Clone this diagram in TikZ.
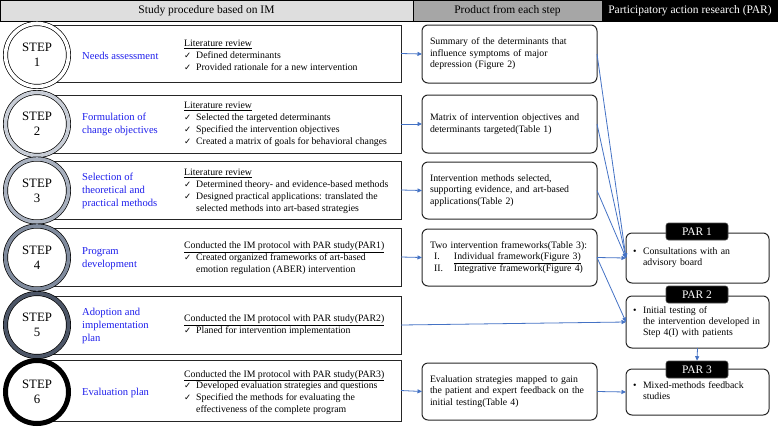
\documentclass[tikz,border=0pt]{standalone}
\usepackage{fontspec}
\setmainfont{Liberation Serif}
\newfontfamily\dejavu{DejaVu Sans}
\usetikzlibrary{arrows.meta}
\definecolor{titleblue}{RGB}{30,30,235}
\definecolor{arrowblue}{RGB}{68,114,196}
\definecolor{hdrA}{RGB}{222,222,222}
\definecolor{hdrB}{RGB}{166,166,166}
\definecolor{ringB}{RGB}{200,205,214}
\definecolor{ringC}{RGB}{168,176,190}
\definecolor{ringD}{RGB}{128,139,157}
\definecolor{ringE}{RGB}{76,85,102}
\newcommand{\chk}{\makebox[12pt][l]{\dejavu\fontsize{8.5}{10}\selectfont ✓}}
\newcommand{\hang}{\hspace*{12pt}}
\newcommand{\bulitem}[1]{\hspace*{3pt}\makebox[10pt][l]{•}\begin{tabular}[t]{@{}l@{}}#1\end{tabular}}
\begin{document}
\begin{tikzpicture}[x=1pt,y=-1pt,
  hdr/.style={draw=black, line width=0.8pt, inner sep=0pt, outer sep=0pt, anchor=north west, font=\fontsize{11.5}{13}\selectfont},
  rowbox/.style={draw=black!85, line width=0.7pt, inner sep=0pt, outer sep=0pt, anchor=north west, minimum width=365pt},
  stepcirc/.style={circle, draw=black, line width=0.7pt, double distance=3.6pt, fill=white, minimum size=63pt, inner sep=0pt, align=center, font=\fontsize{12.8}{15}\selectfont},
  title/.style={anchor=west, align=left, text=titleblue, inner sep=0pt, font=\fontsize{10.6}{13}\selectfont},
  desc/.style={anchor=west, align=left, inner sep=0pt, font=\fontsize{9.8}{11.9}\selectfont},
  prod/.style={draw=black!85, line width=1pt, rounded corners=6pt, anchor=north west, minimum width=175pt, text width=165pt, inner xsep=5pt, inner ysep=0pt, outer sep=0pt, align=left, font=\fontsize{9.8}{11.6}\selectfont},
  parbox/.style={draw=black!85, line width=1pt, rounded corners=6pt, anchor=north west, minimum width=143pt, text width=135pt, inner xsep=4pt, inner ysep=0pt, outer sep=0pt, align=left, font=\fontsize{9.8}{11.2}\selectfont},
  parlab/.style={fill=black, draw=black!70, line width=0.6pt, rounded corners=2.5pt, minimum width=62pt, minimum height=17pt, inner sep=0pt, text=white, font=\fontsize{11.5}{13}\selectfont},
  conn/.style={draw=arrowblue, line width=0.8pt, -{Triangle[length=4.5pt,width=4pt]}},
]
\useasboundingbox (0,0) rectangle (778,426);

% header
\node[hdr, fill=hdrA, minimum width=413pt, minimum height=21pt] (h1) at (0,0) {Study procedure based on IM};
\node[hdr, fill=hdrB, minimum width=189pt, minimum height=21pt] (h2) at (413,0) {Product from each step};
\node[hdr, fill=black, text=white, minimum width=176pt, minimum height=21pt] (h3) at (602,0) {Participatory action research (PAR)};

% row boxes
\node[rowbox, minimum height=57pt] (r1) at (36,25) {};
\node[rowbox, minimum height=58pt] (r2) at (36,95) {};
\node[rowbox, minimum height=58pt] (r3) at (36,161) {};
\node[rowbox, minimum height=58pt] (r4) at (36,228) {};
\node[rowbox, minimum height=58pt] (r5) at (36,296) {};
\node[rowbox, minimum height=61pt] (r6) at (36,360) {};

% step circles
\node[stepcirc, double=white] (c1) at (37,55) {STEP\\1};
\node[stepcirc, double=ringB] (c2) at (37,124) {STEP\\2};
\node[stepcirc, double=ringC] (c3) at (37,190.5) {STEP\\3};
\node[stepcirc, double=ringD] (c4) at (37,257.5) {STEP\\4};
\node[stepcirc, double=ringE] (c5) at (37,325) {STEP\\5};
\node[stepcirc, double=black] (c6) at (37,392) {STEP\\6};

% titles
\node[title] (t1) at (82,55.5) {Needs assessment};
\node[title] (t2) at (82,124) {Formulation of\\change objectives};
\node[title] (t3) at (82,191) {Selection of\\theoretical and\\practical methods};
\node[title] (t4) at (82,259) {Program\\development};
\node[title] (t5) at (82,326) {Adoption and\\implementation\\plan};
\node[title] (t6) at (82,393) {Evaluation plan};

% descriptions
\node[desc] (d1) at (184,55.5) {\underline{Literature review}\\\chk Defined determinants\\\chk Provided rationale for a new intervention};
\node[desc] (d2) at (184,124.5) {\underline{Literature review}\\\chk Selected the targeted determinants\\\chk Specified the intervention objectives\\\chk Created a matrix of goals for behavioral changes};
\node[desc] (d3) at (184,191) {\underline{Literature review}\\\chk Determined theory- and evidence-based methods\\\chk Designed practical applications: translated the\\\hang selected methods into art-based strategies};
\node[desc] (d4) at (184,258) {\underline{Conducted the IM protocol with PAR study(PAR1)}\\\chk Created organized frameworks of art-based\\\hang emotion regulation (ABER) intervention};
\node[desc] (d5) at (184,325.5) {\underline{Conducted the IM protocol with PAR study(PAR2)}\\\chk Planed for intervention implementation};
\node[desc] (d6) at (184,392.5) {\underline{Conducted the IM protocol with PAR study(PAR3)}\\\chk Developed evaluation strategies and questions\\\chk Specified the methods for evaluating the\\\hang effectiveness of the complete program};

% products
\node[prod, minimum height=58pt] (p1) at (422,25) {\hspace*{3pt}Summary of the determinants that\\\hspace*{3pt}influence symptoms of major\\\hspace*{3pt}depression (Figure 2)};
\node[prod, minimum height=58pt] (p2) at (422,95) {\hspace*{3pt}Matrix of intervention objectives and\\\hspace*{3pt}determinants targeted(Table 1)};
\node[prod, minimum height=57pt] (p3) at (422,162) {\hspace*{3pt}Intervention methods selected,\\\hspace*{3pt}supporting evidence, and art-based\\\hspace*{3pt}applications(Table 2)};
\node[prod, minimum height=57pt] (p4) at (422,229) {\hspace*{3pt}Two intervention frameworks(Table 3):\\\hspace*{7pt}\makebox[20pt][l]{I.}\underline{Individual framework(Figure 3)}\\\hspace*{7pt}\makebox[20pt][l]{II.}Integrative framework(Figure 4)};
\node[prod, minimum height=57pt] (p6) at (422,363) {\hspace*{3pt}Evaluation strategies mapped to gain\\\hspace*{3pt}the patient and expert feedback on the\\\hspace*{3pt}initial testing(Table 4)};

% PAR boxes
\node[parbox, minimum height=50pt] (par1) at (626,233) {\bulitem{Consultations with an\\advisory board}};
\node[parbox, minimum height=52pt] (par2) at (626,296) {\bulitem{Initial testing of\\the intervention developed in\\Step 4(I) with patients}};
\node[parbox, minimum height=46pt] (par3) at (626,369) {\bulitem{Mixed-methods feedback\\studies}};
\node[parlab] (lab1) at (697,231.5) {PAR 1};
\node[parlab] (lab2) at (697,294.5) {PAR 2};
\node[parlab] (lab3) at (697,369.5) {PAR 3};

% connectors
\draw[conn] (r1.east) -- (p1.west);
\draw[conn] (r2.east) -- (p2.west);
\draw[conn] (r3.east) -- (p3.west);
\draw[conn] (r4.east) -- (p4.west);
\draw[conn] (r6.east) -- (p6.west);
\draw[conn] (p1.east) -- (par1.west);
\draw[conn] (p2.east) -- (par1.west);
\draw[conn] (p3.east) -- (par1.west);
\draw[conn] (p4.east) -- (par1.west);
\draw[conn] (p4.east) -- (par2.west);
\draw[conn] (r5.east) -- (par2.west);
\draw[conn] (par2.south) -- (lab3.north);
\draw[conn] (p6.east) -- (par3.west);
\end{tikzpicture}
\end{document}
